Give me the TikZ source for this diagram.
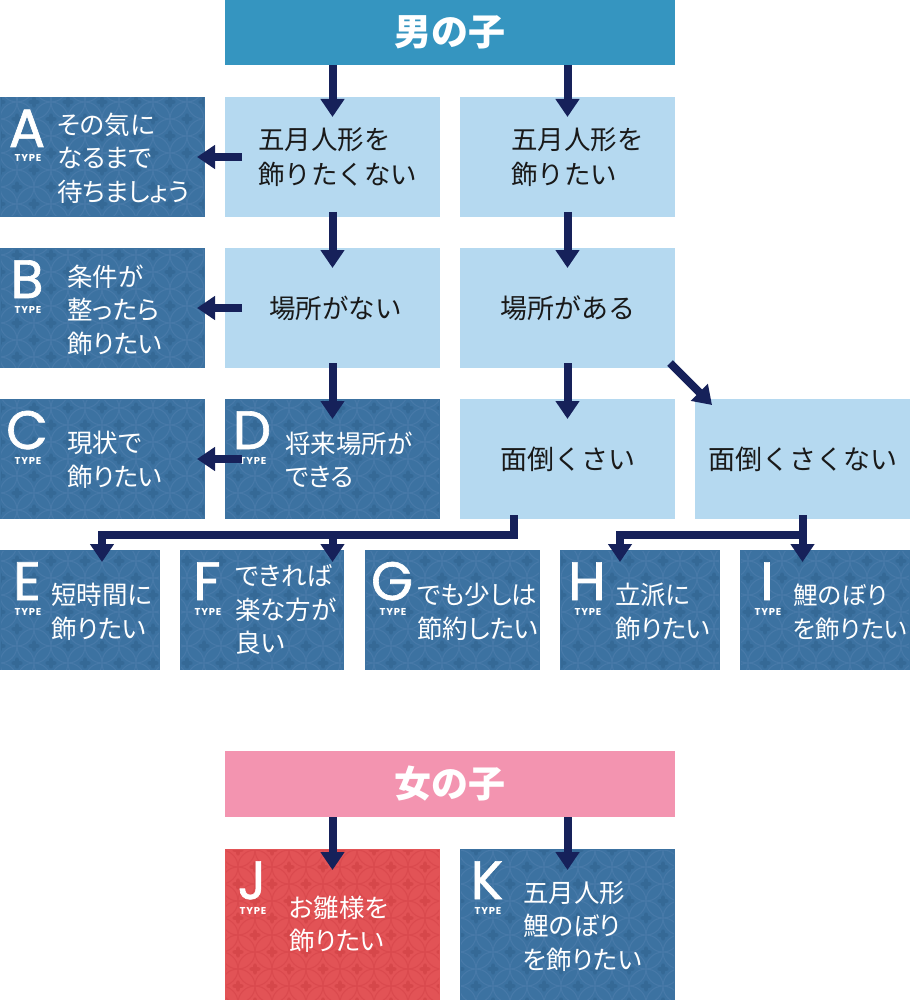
\documentclass[tikz,border=0pt]{standalone}
\usepackage{fontspec}
\usetikzlibrary{arrows.meta,calc}
\newfontfamily\jp[RawFeature=+palt]{Noto Sans CJK JP}
\newfontfamily\jpm{Noto Sans CJK JP}
\newfontfamily\lat[FakeBold=1.2]{Poppins}
\newfontfamily\latt[LetterSpace=8]{Poppins}
\definecolor{navy}{HTML}{16215A}
\definecolor{lightb}{HTML}{B5D9F0}
\definecolor{headb}{HTML}{3595C0}
\definecolor{pinkh}{HTML}{F394B0}
\definecolor{darkb}{HTML}{3C72A1}
\definecolor{darkbl}{HTML}{4779A8}
\definecolor{darkbf}{HTML}{356996}
\definecolor{redb}{HTML}{E25356}
\definecolor{redbl}{HTML}{DA4A4E}
\definecolor{redbf}{HTML}{D6474A}
\newcommand\pat[6]{%
\begin{scope}
\clip (#1+1,#2+1) rectangle (#3-1,#4-1);
\pgfmathtruncatemacro\pia{floor(#1/17)-1}
\pgfmathtruncatemacro\pib{ceil(#3/17)+1}
\pgfmathtruncatemacro\pja{floor(#2/17)-1}
\pgfmathtruncatemacro\pjb{ceil(#4/17)+1}
\foreach \i in {\pia,...,\pib}{\foreach \j in {\pja,...,\pjb}{%
 \pgfmathtruncatemacro\pp{mod(\i+\j+200,2)}%
 \ifnum\pp=0
  \draw[#5,line width=1.1] (\i*17,\j*17) circle[radius=17];
  \fill[#6] (\i*17+2.8,\j*17) ellipse[x radius=2.8,y radius=2] (\i*17-2.8,\j*17) ellipse[x radius=2.8,y radius=2] (\i*17,\j*17+2.8) ellipse[x radius=2,y radius=2.8] (\i*17,\j*17-2.8) ellipse[x radius=2,y radius=2.8];
 \fi}}
\end{scope}}
\begin{document}
\begin{tikzpicture}[x=1pt,y=-1pt,
  bx/.style={anchor=north west,inner sep=0,outer sep=0,draw=none},
  light/.style={bx,fill=lightb,text=black!90,font=\jpm\fontsize{27}{35}\selectfont,align=left},
  dark/.style={bx,fill=darkb},
  redbox/.style={bx,fill=redb},
  head/.style={bx,text=white,font=\jpm\bfseries\fontsize{37}{37}\selectfont},
  wt/.style={anchor=west,inner sep=0,text=white,align=left,font=\jp\fontsize{25.5}{33.5}\selectfont},
  bt/.style={anchor=west,inner sep=0,text=black!90,align=left,font=\jpm\fontsize{26.5}{35}\selectfont},
  letter/.style={anchor=base,inner sep=0,text depth=0pt,text=white,font=\lat\fontsize{54}{54}\selectfont},
  typ/.style={anchor=base,inner sep=0,text depth=0pt,text=white,font=\latt\bfseries\fontsize{10}{10}\selectfont},
  arr/.style={draw=navy,line width=8,line join=miter,-{Triangle[width=23pt,length=18pt]}}]
\useasboundingbox (0,0) rectangle (910,1000);
% header boxes
\node[head,fill=headb,minimum width=450pt,minimum height=65pt] (boy) at (225,0) {男の子};
\node[head,fill=pinkh,minimum width=450pt,minimum height=66pt] (girl) at (225,751) {女の子};
% light boxes
\node[light,minimum width=215pt,minimum height=120pt] (l1) at (225,97) {};
\node[light,minimum width=215pt,minimum height=120pt] (r1) at (460,97) {};
\node[light,minimum width=215pt,minimum height=120pt] (l2) at (225,248) {};
\node[light,minimum width=215pt,minimum height=120pt] (r2) at (460,248) {場所がある};
\node[light,minimum width=215pt,minimum height=120pt] (m1) at (460,399) {面倒くさい};
\node[light,minimum width=215pt,minimum height=120pt] (m2) at (695,399) {面倒くさくない};
\node[bt] (l1t) at ($(l1.west)+(33,0)$) {五月人形を\\飾りたくない};
\node[bt] (r1t) at ($(r1.west)+(51,0)$) {五月人形を\\飾りたい};
\node[bt] (l2t) at ($(l2.west)+(44,0)$) {場所がない};
% dark boxes
\node[dark,minimum width=205pt,minimum height=120pt] (A) at (0,97) {};
\node[dark,minimum width=205pt,minimum height=120pt] (B) at (0,248) {};
\node[dark,minimum width=205pt,minimum height=120pt] (C) at (0,399) {};
\node[dark,minimum width=215pt,minimum height=120pt] (D) at (225,399) {};
\node[dark,minimum width=160pt,minimum height=120pt] (E) at (0,550) {};
\node[dark,minimum width=164pt,minimum height=120pt] (F) at (180,550) {};
\node[dark,minimum width=175pt,minimum height=120pt] (G) at (365,550) {};
\node[dark,minimum width=160pt,minimum height=120pt] (H) at (560,550) {};
\node[dark,minimum width=170pt,minimum height=120pt] (I) at (740,550) {};
\node[redbox,minimum width=215pt,minimum height=151pt] (J) at (225,849) {};
\node[dark,minimum width=215pt,minimum height=151pt] (K) at (460,849) {};
% patterns
\pat{0}{97}{205}{217}{darkbl}{darkbf}
\pat{0}{248}{205}{368}{darkbl}{darkbf}
\pat{0}{399}{205}{519}{darkbl}{darkbf}
\pat{225}{399}{440}{519}{darkbl}{darkbf}
\pat{0}{550}{160}{670}{darkbl}{darkbf}
\pat{180}{550}{344}{670}{darkbl}{darkbf}
\pat{365}{550}{540}{670}{darkbl}{darkbf}
\pat{560}{550}{720}{670}{darkbl}{darkbf}
\pat{740}{550}{910}{670}{darkbl}{darkbf}
\pat{225}{849}{440}{1000}{redbl}{redbf}
\pat{460}{849}{675}{1000}{darkbl}{darkbf}
% type letters
\foreach \n/\L in {A/A,B/B,C/C,D/D,E/E,F/F,G/G,H/H,I/I,J/J,K/K}{
  \node[letter] (\n L) at ($(\n.north west)+(27,50)$) {\L};
  \node[typ] (\n T) at ($(\n.north west)+(28,65)$) {TYPE};
}
% texts
\node[wt] (At) at ($(A.west)+(57,1)$) {その気に\\なるまで\\待ちましょう};
\node[wt] (Bt) at ($(B.west)+(67,2)$) {条件が\\整ったら\\飾りたい};
\node[wt] (Ct) at ($(C.west)+(67,1)$) {現状で\\飾りたい};
\node[wt] (Dt) at ($(D.west)+(60,1)$) {将来場所が\\できる};
\node[wt] (Et) at ($(E.west)+(51,2)$) {短時間に\\飾りたい};
\node[wt] (Ft) at ($(F.west)+(55,0)$) {できれば\\楽な方が\\良い};
\node[wt] (Gt) at ($(G.west)+(52,2)$) {でも少しは\\節約したい};
\node[wt] (Ht) at ($(H.west)+(55,2)$) {立派に\\飾りたい};
\node[wt,font=\jp\fontsize{24.5}{33.5}\selectfont] (It) at ($(I.west)+(53,2)$) {鯉のぼり\\を飾りたい};
\node[wt] (Jt) at ($(J.west)+(64,0)$) {お雛様を\\飾りたい};
\node[wt] (Kt) at ($(K.west)+(63,2)$) {五月人形\\鯉のぼり\\を飾りたい};
% arrows
\draw[arr] (boy.south -| l1.north) -- ($(l1.north)+(0,20)$);
\draw[arr] (boy.south -| r1.north) -- ($(r1.north)+(0,20)$);
\draw[arr] ($(l1.south)+(0,-5)$) -- ($(l2.north)+(0,20)$);
\draw[arr] ($(r1.south)+(0,-5)$) -- ($(r2.north)+(0,20)$);
\draw[arr] ($(l2.south)+(0,-5)$) -- ($(D.north)+(0,20)$);
\draw[arr] ($(r2.south)+(0,-5)$) -- ($(m1.north)+(0,20)$);
\draw[arr] ($(r2.south east)+(-5,-5)$) -- ($(m2.north west)+(17,6)$);
\draw[arr] ($(l1.west)+(17,0)$) -- ($(A.east)+(-8,0)$);
\draw[arr] ($(l2.west)+(17,0)$) -- ($(B.east)+(-8,0)$);
\draw[arr] ($(D.west)+(17,0)$) -- ($(C.east)+(-8,0)$);
\draw[arr] ($(m1.south)+(-53.5,-4)$) -- ++(0,20) -| ($(E.north)+(22,12)$);
\draw[arr] ($(D.south)+(0,12)$) -- ($(D.south |- F.north)+(0,12)$);
\draw[arr] ($(m2.south)+(0,-4)$) -- ($(m2.south |- I.north)+(0,12)$);
\draw[arr] ($(m2.south)+(4,16)$) -| ($(H.north)+(-20,12)$);
\draw[arr] (girl.south -| J.north) -- ($(J.north)+(0,21)$);
\draw[arr] (girl.south -| K.north) -- ($(K.north)+(0,21)$);
\end{tikzpicture}
\end{document}
